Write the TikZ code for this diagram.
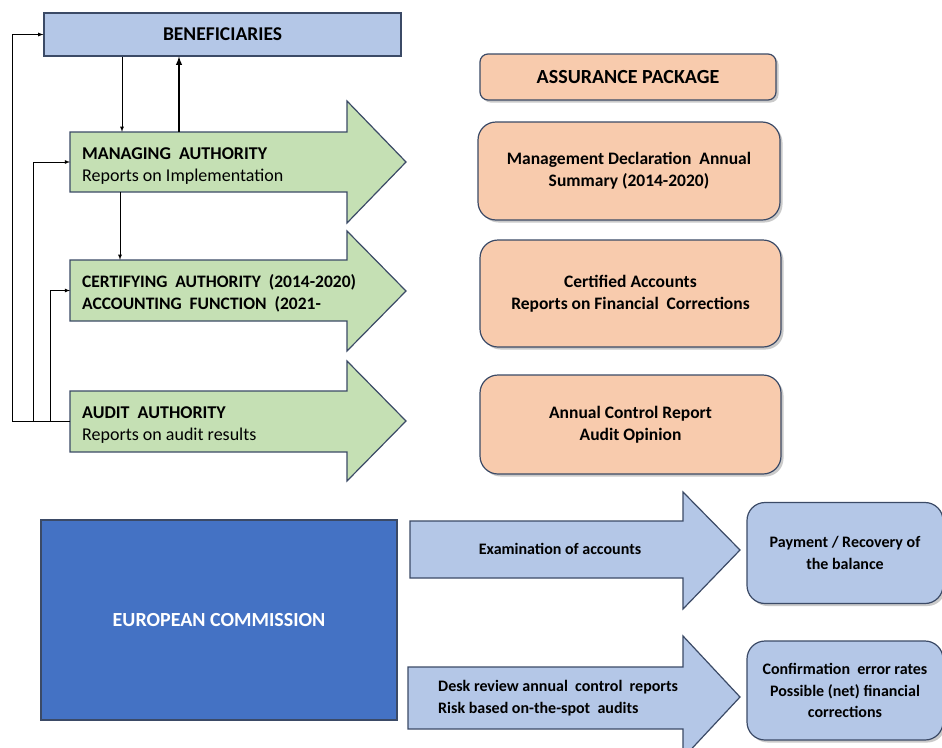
\documentclass[tikz,border=0pt]{standalone}
\usepackage{fontspec}
\setmainfont{Carlito}
\usepackage{tikz}
\usetikzlibrary{positioning,shadows,calc}

\definecolor{lightblue}{HTML}{B4C7E7}
\definecolor{darkblue}{HTML}{4472C4}
\definecolor{greenfill}{HTML}{C5E0B4}
\definecolor{orangefill}{HTML}{F8CBAD}
\definecolor{edge}{HTML}{3B4A66}

\begin{document}
\begin{tikzpicture}[x=1pt, y=-1pt, font=\fontsize{17.5}{22}\selectfont,
box/.style = {draw=edge, line width=1.2pt, minimum width=#1, inner sep=0pt},
pkg/.style = {draw=edge, line width=1.2pt, fill=orangefill, rounded corners=18pt, align=center, font=\fontsize{17.5}{22}\selectfont\bfseries,
  drop shadow={shadow xshift=2.5pt, shadow yshift=-2.5pt, opacity=0.35, fill=black!60}},
res/.style = {pkg, fill=lightblue, font=\fontsize{16}{21.5}\selectfont\bfseries},
greenarr/.style = {draw=edge, line width=1.2pt, fill=greenfill, line join=miter},
bluearr/.style = {draw=edge, line width=1.2pt, fill=lightblue, line join=miter},
body/.style = {inner xsep=12pt, inner ysep=0pt, align=left, anchor=west},
flow/.style = {-latex, line width=0.8pt},
bigflow/.style = {-latex, line width=1.8pt}]
\useasboundingbox (0,0) rectangle (942,747);

% shapes of the big arrows
\path[greenarr] (70,132) -- (347,132) -- (347,101) -- (406,162) -- (347,223) -- (347,192) -- (70,192) -- cycle;
\path[greenarr] (70,260) -- (347,260) -- (347,231) -- (406,291) -- (347,351) -- (347,321) -- (70,321) -- cycle;
\path[greenarr] (70,391) -- (347,391) -- (347,361) -- (406,421) -- (347,481) -- (347,452) -- (70,452) -- cycle;
\path[bluearr] (410,521) -- (683,521) -- (683,492) -- (740,550) -- (683,609) -- (683,578) -- (410,578) -- cycle;
\path[bluearr] (408,667) -- (683,667) -- (683,636) -- (740,697) -- (683,758) -- (683,729) -- (408,729) -- cycle;

% boxes on the left
\node[box=357pt, minimum height=43pt, fill=lightblue, font=\fontsize{19.5}{22}\selectfont\bfseries] (benef) at (222.5,34.5) {BENEFICIARIES};
\node[body, minimum height=60pt, font=\fontsize{18}{22}\selectfont] (ma) at (70,162) {\rule{0pt}{19.5pt}\textbf{MANAGING~ AUTHORITY}\\Reports on Implementation};
\node[body, minimum height=61pt] (ca) at (70,290.5) {\rule{0pt}{19pt}\textbf{CERTIFYING~ AUTHORITY~ (2014-2020)}\\\textbf{ACCOUNTING~ FUNCTION~ (2021-}};
\node[body, minimum height=61pt, font=\fontsize{18}{22}\selectfont] (aa) at (70,421.5) {\rule{0pt}{19pt}\textbf{AUDIT~ AUTHORITY}\\Reports on audit results};
\node[box=356pt, minimum height=200pt, fill=darkblue, text=white, font=\fontsize{20}{22}\selectfont\bfseries] (ec) at (219,620) {EUROPEAN COMMISSION};

% assurance package
\node[pkg, rounded corners=8pt, minimum width=296pt, minimum height=46pt, font=\fontsize{20}{22}\selectfont\bfseries] (ap) at (628,77) {ASSURANCE PACKAGE};
\node[pkg, minimum width=302pt, minimum height=98pt] (md) at (629,171) {Management Declaration~ Annual\\Summary (2014-2020)};
\node[pkg, minimum width=301pt, minimum height=107pt] (cert) at (630.5,293.5) {Certified Accounts\\Reports on Financial~ Corrections};
\node[pkg, minimum width=301pt, minimum height=99pt] (acr) at (630.5,424.5) {Annual Control Report\\Audit Opinion};

% commission side
\node[font=\fontsize{16}{21.5}\selectfont\bfseries] (exam) at (560,549) {Examination of accounts};
\node[body, inner xsep=0pt, font=\fontsize{16}{21.5}\selectfont\bfseries] (desk) at (438,698) {Desk review annual~ control~ reports\\Risk based on-the-spot~ audits};
\node[res, minimum width=196pt, minimum height=101pt] (pay) at (845,553) {Payment / Recovery of\\the balance};
\node[res, minimum width=196pt, minimum height=99pt] (conf) at (845,690.5) {Confirmation~ error rates\\Possible (net) financial\\corrections};

% connectors
\coordinate (down1) at (122,0);
\coordinate (up1) at (179,0);
\coordinate (down2) at (120,0);
\draw[flow] (benef.south -| down1) -- (ma.north -| down1);
\draw[bigflow] (ma.north -| up1) -- (benef.south -| up1);
\draw[flow] (ma.south -| down2) -- (ca.north -| down2);
\draw[flow] (aa.west) -- ++(-58,0) |- (benef.west);
\draw[flow] (aa.west) -- ++(-37,0) |- (ma.west);
\draw[flow] (aa.west) -- ++(-20,0) |- (ca.west);
\end{tikzpicture}
\end{document}
